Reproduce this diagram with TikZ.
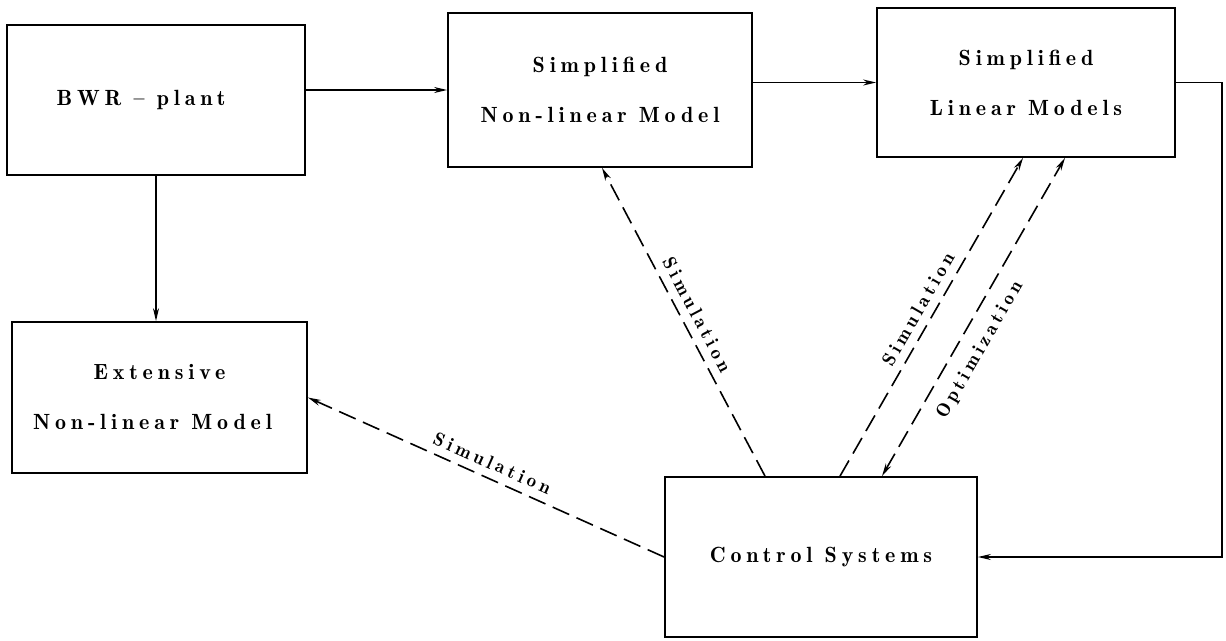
\documentclass[tikz,border=0pt]{standalone}
\usepackage{fontspec}
\usetikzlibrary{arrows.meta}
% widely tracked serif lettering for boxes and connector labels
\newfontfamily\trackedfam{lmromandemi10-regular.otf}[LetterSpace=22]
\newfontfamily\tagfam{lmromandemi10-regular.otf}[LetterSpace=22]
\newcommand\boxfont{\trackedfam\fontsize{22}{50}\selectfont}
\newcommand\tagfont{\tagfam\fontsize{19}{22}\selectfont}
\begin{document}
\begin{tikzpicture}[x=1pt,y=-1pt,
  box/.style={draw, line width=1.8pt, inner sep=0pt, align=center, font=\boxfont},
  tip/.tip={Stealth[length=13pt,width=6pt]},
  link/.style={line width=1.5pt, -tip},
  dlink/.style={line width=1.6pt, dash pattern=on 18pt off 8pt, -tip},
  dlinkboth/.style={dlink, tip-tip},
  tag/.style={font=\tagfont, sloped, inner sep=3pt}]
\useasboundingbox (0,0) rectangle (1226,640);

% blocks
\node[box, minimum width=298pt, minimum height=150pt] (bwr) at (156,100) {BWR – plant\hspace*{30pt}};
\node[box, minimum width=304pt, minimum height=154pt] (snl) at (600,90) {Simplified\\Non-linear Model};
\node[box, minimum width=298pt, minimum height=149pt] (slm) at (1026,82.5) {Simplified\\Linear Models};
\node[box, minimum width=295pt, minimum height=151pt] (ext) at (159.5,397.5) {\rule{0pt}{10pt}Extensive\\Non-linear Model\hspace*{14pt}};
\node[box, minimum width=312pt, minimum height=160pt] (ctl) at (821,557) {Control Systems};

% model derivation chain
\draw[link] (snl.west -| bwr.east) -- (snl.west);
\draw[link] (slm.west -| snl.east) -- (slm.west);
\draw[link] (bwr.south) -- (bwr.south |- ext.north);
\draw[link] (slm.east) -- ++(46,0) |- (ctl.east);

% simulation / optimization links
\draw[dlink] ([xshift=-56pt]ctl.north) -- node[tag, pos=0.5, above=5pt] {Simulation} ([xshift=2pt]snl.south);
\draw[dlink] ([xshift=19pt]ctl.north) -- node[tag, pos=0.5, above=5pt] {Simulation} ([xshift=-3pt]slm.south);
\draw[dlinkboth] ([xshift=61pt]ctl.north) -- node[tag, pos=0.43, below=10pt] {Optimization} ([xshift=39pt]slm.south);
\draw[dlink] (ctl.west) -- node[tag, pos=0.5, above=5pt] {Simulation} (ext.east);
\end{tikzpicture}
\end{document}
